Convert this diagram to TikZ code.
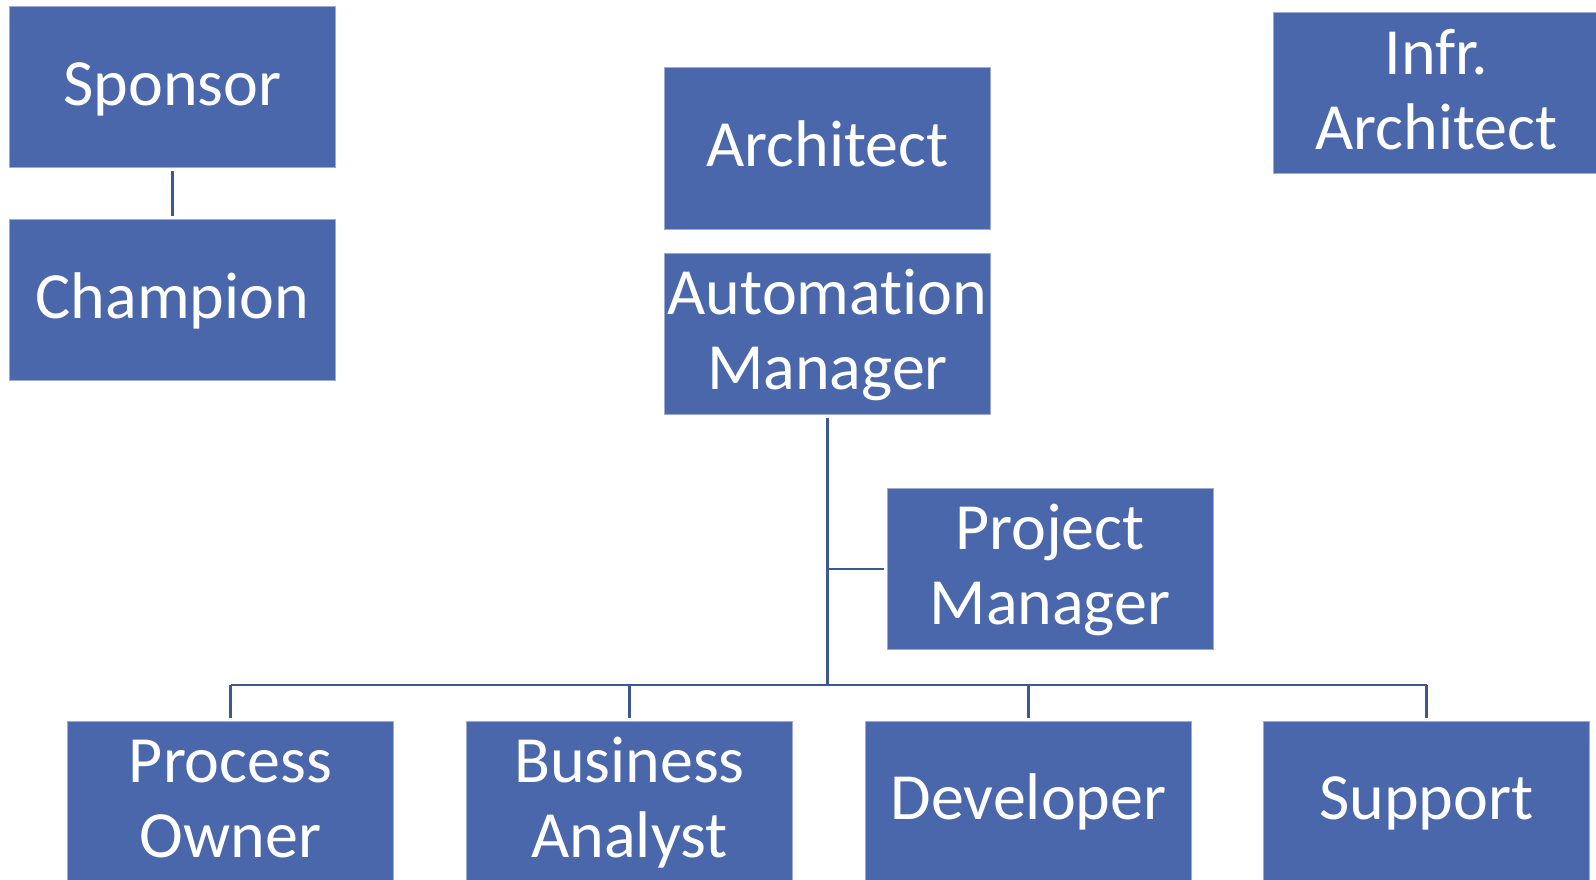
\documentclass[tikz,border=0pt]{standalone}
\usepackage{fontspec}
\setmainfont{Carlito}[Ligatures=NoCommon]
\definecolor{roleblue}{RGB}{74,103,172}
\definecolor{linkblue}{RGB}{62,88,150}
\newcommand\linestrut{\rule[-0.2em]{0pt}{0.96em}}
\tikzset{
  role/.style={draw=roleblue!55!white, line width=1pt, fill=roleblue, text=white,
    minimum width=326pt, minimum height=161pt, inner sep=0pt, align=center,
    font=\fontsize{66}{75}\selectfont,
    execute at begin node=\linestrut, execute at end node=\linestrut},
  link/.style={draw=linkblue, line width=2.5pt}
}
\begin{document}
\begin{tikzpicture}[x=1pt,y=-1pt]
    \useasboundingbox (0,0) rectangle (1596,880);
    \clip (0,0) rectangle (1596,880);

    % left column
    \node[role] (sponsor) at (172.5,87) {Sponsor};
    \node[role] (champion) at (172.5,300) {Champion};

    % centre and right
    \node[role] (architect) at (827.5,148.5) {Architect};
    \node[role] (automgr) at (827.5,334) {\linestrut Automation\\Manager};
    \node[role] (projmgr) at (1050,569) {\linestrut Project\\Manager};
    \node[role] (infra) at (1436.5,93.5) {\linestrut Infr.\\Architect};

    % bottom row
    \foreach \x/\name/\label in {230.5/procown/{\linestrut Process\\Owner}, 629.5/busanal/{\linestrut Business\\Analyst}, 1028.5/dev/{Developer}, 1426.5/support/{Support}} {
      \node[role] (\name) at (\x,801.5) {\label};
    }

    \coordinate (bus) at (827.5,685);
    \draw[link, shorten <=3pt, shorten >=3pt] (sponsor) -- (champion);
    \draw[link, shorten <=3pt] (automgr) -- (bus);
    \draw[link, shorten >=3pt] (automgr |- projmgr) -- (projmgr.west);
    \draw[link] (procown |- bus) -- (support |- bus);
    \foreach \name in {procown,busanal,dev,support}
      \draw[link, shorten >=3pt] (\name |- bus) -- (\name);
  \end{tikzpicture}
\end{document}
